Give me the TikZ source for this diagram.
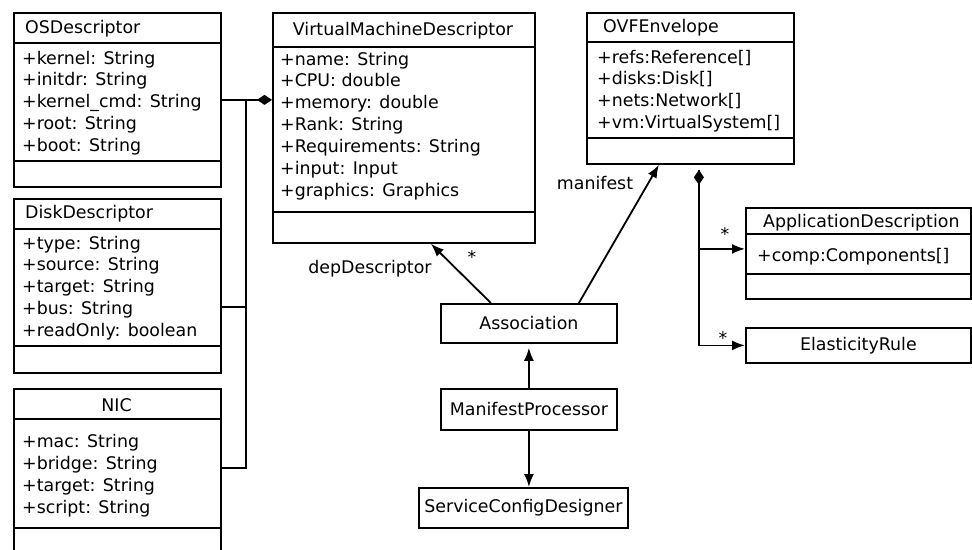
\documentclass[tikz,border=0pt]{standalone}
\usepackage{fontspec}
\setmainfont{DejaVu Sans}
\usetikzlibrary{positioning,arrows.meta,calc}

\tikzset{
  umlfont/.style={font=\fontsize{17.4}{21}\selectfont},
  frame/.style={draw, line width=1.8pt, anchor=north west, inner sep=0pt, umlfont},
  attr/.style={umlfont, anchor=base west, inner sep=0pt},
  conn/.style={line width=1.8pt},
  mult/.style={umlfont, inner sep=0pt},
  tri/.tip={Latex[length=13pt,width=10pt]},
  dia/.tip={Diamond[length=15pt,width=10pt]},
}

\begin{document}
\begin{tikzpicture}[x=1pt, y=-1pt]
    \useasboundingbox (0,0) rectangle (972,549);
    \clip (0,0) rectangle (972,549);

    % OSDescriptor
    \node[frame, minimum width=207pt, minimum height=174pt] (os) at (13,12) {};
    \draw[conn] (13,43) -- (220,43) (13,161) -- (220,161);
    \node[attr] (os-t) at (25,33) {OSDescriptor};
    \foreach \a [count=\i from 0] in {+kernel: String, +initdr: String, +kernel\_cmd: String, +root: String, +boot: String}
        \node[attr] (os-a\i) at (22,{64+21.8*\i}) {\a};

    % DiskDescriptor
    \node[frame, minimum width=207pt, minimum height=174pt] (disk) at (13,198) {};
    \draw[conn] (13,229) -- (220,229) (13,346) -- (220,346);
    \node[attr] (disk-t) at (25,218) {DiskDescriptor};
    \foreach \a [count=\i from 0] in {+type: String, +source: String, +target: String, +bus: String, +readOnly: boolean}
        \node[attr] (disk-a\i) at (22,{249+21.9*\i}) {\a};

    % NIC
    \node[frame, minimum width=207pt, minimum height=166pt] (nic) at (13,388) {};
    \draw[conn] (13,419) -- (220,419) (13,528) -- (220,528);
    \node[attr, anchor=base] (nic-t) at (116.5,411) {NIC};
    \foreach \a [count=\i from 0] in {+mac: String, +bridge: String, +target: String, +script: String}
        \node[attr] (nic-a\i) at (22,{447+22*\i}) {\a};

    % VirtualMachineDescriptor
    \node[frame, minimum width=262pt, minimum height=230pt] (vmd) at (272,12) {};
    \draw[conn] (272,47) -- (534,47) (272,212) -- (534,212);
    \node[attr, anchor=base] (vmd-t) at (403,35) {VirtualMachineDescriptor};
    \foreach \a [count=\i from 0] in {+name: String, +CPU: double, +memory: double, +Rank: String, +Requirements: String, +input: Input, +graphics: Graphics}
        \node[attr] (vmd-a\i) at (280,{65+21.9*\i}) {\a};

    % OVFEnvelope
    \node[frame, minimum width=207pt, minimum height=151pt] (ovf) at (586,12) {};
    \draw[conn] (586,42) -- (793,42) (586,138) -- (793,138);
    \node[attr] (ovf-t) at (603,32) {OVFEnvelope};
    \foreach \a [count=\i from 0] in {+refs:Reference[], +disks:Disk[], +nets:Network[], +vm:VirtualSystem[]}
        \node[attr] (ovf-a\i) at (597,{63+21.9*\i}) {\a};

    % ApplicationDescription
    \node[frame, minimum width=225pt, minimum height=91pt] (app) at (745,207) {};
    \draw[conn] (745,234) -- (970,234) (745,274) -- (970,274);
    \node[attr] (app-t) at (763,227) {ApplicationDescription};
    \node[attr] (app-a0) at (757,261) {+comp:Components[]};

    % plain boxes
    \node[frame, minimum width=225pt, minimum height=35pt] (elast) at (745,327) {ElasticityRule};
    \node[frame, minimum width=176pt, minimum height=39pt] (assoc) at (440,303) {Association};
    \node[frame, minimum width=176pt, minimum height=41pt] (mp) at (440,388) {ManifestProcessor};
    \node[frame, minimum width=209pt, minimum height=40pt] (scd) at (418,487) {ServiceConfigDesigner};

    % composition on the left
    \draw[conn, dia-] (vmd.west |- os.east) -- (os.east);
    \coordinate (j1) at ([xshift=24pt]os.east);
    \draw[conn] ([yshift=-21pt]disk.east) -| (j1);
    \draw[conn] ([yshift=4pt]nic.east) -| (j1);

    % composition on the right
    \coordinate (j2) at ([xshift=8.5pt, yshift=-5pt]ovf.south);
    \draw[conn, dia-tri] (j2) |- ([yshift=4.5pt]app.west);
    \draw[conn, -tri] (j2) |- (elast.west);
    \node[mult] (m1) at (725,234) {*};
    \node[mult] (m2) at (723,338) {*};

    % associations
    \draw[conn, -tri] ([xshift=-38pt]assoc.north) -- ([xshift=27pt]vmd.south);
    \draw[conn, -tri] ([xshift=50pt]assoc.north) -- ([xshift=-31.5pt]ovf.south);
    \node[mult] (m3) at (472,257) {*};
    \node[umlfont] (dep) at (370,269) {depDescriptor};
    \node[umlfont] (man) at (595,183) {manifest};
    \draw[conn, -tri] (mp.north) -- ([yshift=-4pt]assoc.south);
    \draw[conn, -tri] (mp.south) -- (mp.south |- scd.north);
\end{tikzpicture}
\end{document}
